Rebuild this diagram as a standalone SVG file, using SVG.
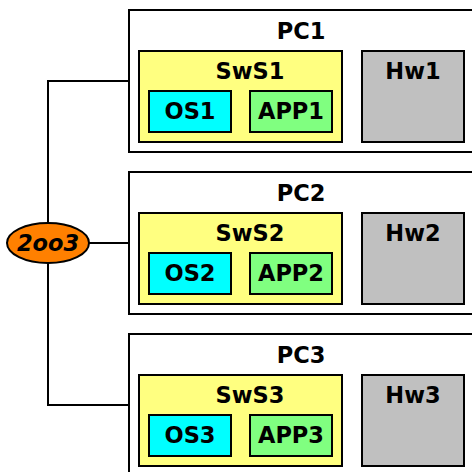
<svg xmlns="http://www.w3.org/2000/svg" width="472" height="472" viewBox="0 0 472 472">
<style>
.pc{fill:#fff;stroke:#000;stroke-width:2}
.sw{fill:#ffff80;stroke:#000;stroke-width:2}
.os{fill:#00ffff;stroke:#000;stroke-width:2}
.app{fill:#80ff80;stroke:#000;stroke-width:2}
.hw{fill:#c0c0c0;stroke:#000;stroke-width:2}
text{font-family:"DejaVu Sans",sans-serif;font-weight:bold;font-size:22.5px;text-anchor:middle;fill:#000}
.con{fill:none;stroke:#000;stroke-width:2}
</style>
<rect width="472" height="472" fill="#fff"/>
<g id="connectors">
<polyline class="con" points="129,81 48,81 48,405 129,405"/>
<line class="con" x1="89" y1="243" x2="129" y2="243"/>
</g>
<g id="pc1">
<rect class="pc" x="129" y="10" width="360" height="142"/>
<text x="301" y="39">PC1</text>
<g id="sws1"><rect class="sw" x="139" y="51" width="203" height="91"/><text x="250" y="79">SwS1</text></g>
<g id="os1"><rect class="os" x="149" y="91" width="82" height="41"/><text x="190" y="119">OS1</text></g>
<g id="app1"><rect class="app" x="250" y="91" width="82" height="41"/><text x="291" y="119">APP1</text></g>
<g id="hw1"><rect class="hw" x="362" y="51" width="102" height="91"/><text x="413" y="79">Hw1</text></g>
</g>
<g id="pc2">
<rect class="pc" x="129" y="172" width="360" height="142"/>
<text x="301" y="201">PC2</text>
<g id="sws2"><rect class="sw" x="139" y="213" width="203" height="91"/><text x="250" y="241">SwS2</text></g>
<g id="os2"><rect class="os" x="149" y="253" width="82" height="41"/><text x="190" y="281">OS2</text></g>
<g id="app2"><rect class="app" x="250" y="253" width="82" height="41"/><text x="291" y="281">APP2</text></g>
<g id="hw2"><rect class="hw" x="362" y="213" width="102" height="91"/><text x="413" y="241">Hw2</text></g>
</g>
<g id="pc3">
<rect class="pc" x="129" y="334" width="360" height="142"/>
<text x="301" y="363">PC3</text>
<g id="sws3"><rect class="sw" x="139" y="375" width="203" height="91"/><text x="250" y="403">SwS3</text></g>
<g id="os3"><rect class="os" x="149" y="415" width="82" height="41"/><text x="190" y="443">OS3</text></g>
<g id="app3"><rect class="app" x="250" y="415" width="82" height="41"/><text x="291" y="443">APP3</text></g>
<g id="hw3"><rect class="hw" x="362" y="375" width="102" height="91"/><text x="413" y="403">Hw3</text></g>
</g>
<g id="vote">
<ellipse cx="48" cy="243" rx="41" ry="20" fill="#ff8000" stroke="#000" stroke-width="2"/>
<text x="48" y="251" style="font-style:italic">2oo3</text>
</g>
</svg>
